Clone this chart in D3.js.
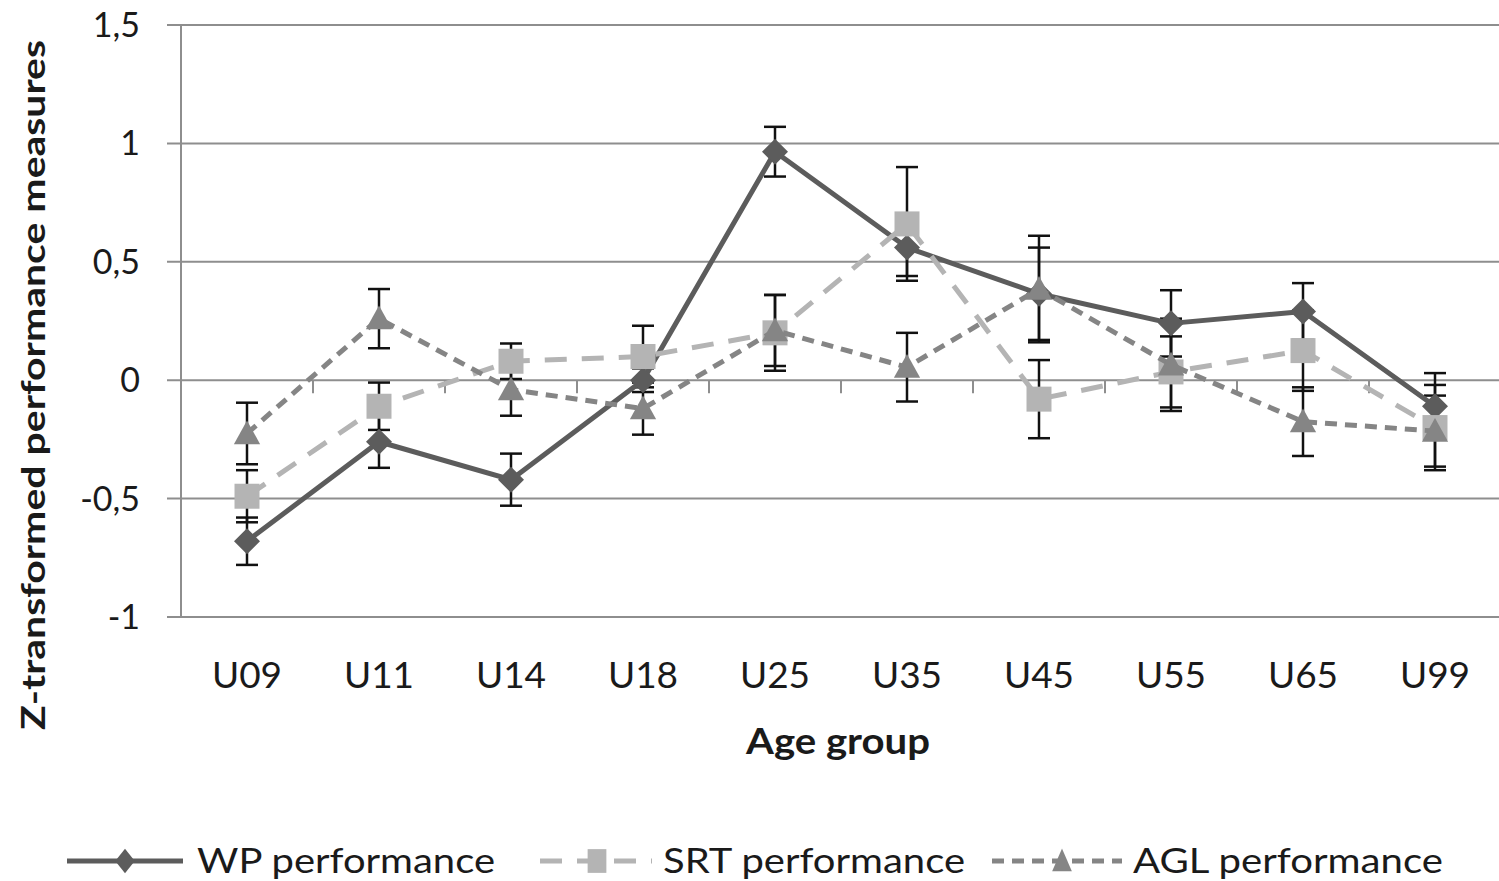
<!DOCTYPE html>
<html>
<head>
<meta charset="utf-8">
<script src="https://cdn.jsdelivr.net/npm/d3@7/dist/d3.min.js"></script>
<style>
  html, body { margin: 0; padding: 0; background: #fff; }
  svg { display: block; }
  text { font-family: Lato, "Open Sans", sans-serif; fill: #1a1a1a; }
</style>
</head>
<body>
<svg id="chart" width="1499" height="881"></svg>
<script>
// Age groups along the x axis
const ageGroups = ["U09", "U11", "U14", "U18", "U25", "U35", "U45", "U55", "U65", "U99"];

// Mean z-scores per age group
const wpMean  = [-0.68, -0.26, -0.42, 0.00, 0.965, 0.56, 0.365, 0.24, 0.29, -0.11];
const srtMean = [-0.49, -0.11, 0.08, 0.10, 0.20, 0.66, -0.08, 0.035, 0.125, -0.20];
const aglMean = [-0.225, 0.26, -0.04, -0.12, 0.21, 0.055, 0.385, 0.065, -0.175, -0.215];

// Error bar half-widths (symmetric)
const wpErr  = [0.10, 0.11, 0.11, 0.05, 0.105, 0.12, 0.195, 0.14, 0.12, 0.14];
const srtErr = [0.11, 0.10, 0.075, 0.13, 0.16, 0.24, 0.165, 0.15, 0.17, 0.18];
const aglErr = [0.13, 0.125, 0.11, 0.11, 0.15, 0.145, 0.225, 0.195, 0.145, 0.15];

// Y axis tick values and their labels (decimal comma)
const yTicks = [-1, -0.5, 0, 0.5, 1, 1.5];
const yTickLabels = ["-1", "-0,5", "0", "0,5", "1", "1,5"];

const seriesNames = ["WP performance", "SRT performance", "AGL performance"];

const series = [
  { name: seriesNames[0], mean: wpMean,  err: wpErr,  color: "#5c5c5c", dash: null,    marker: "diamond" },
  { name: seriesNames[1], mean: srtMean, err: srtErr, color: "#b4b4b4", dash: "22,15", marker: "square" },
  { name: seriesNames[2], mean: aglMean, err: aglErr, color: "#858585", dash: "12,8",  marker: "triangle" }
];

const svg = d3.select("#chart");

const x = d3.scaleBand().domain(ageGroups).range([181, 1501]).paddingInner(0).paddingOuter(0);
const y = d3.scaleLinear().domain([-1, 1.5]).range([617, 25]);
const cx = d => x(d) + x.bandwidth() / 2;

// Horizontal gridlines
svg.append("g").selectAll("line").data(yTicks).join("line")
  .attr("x1", 167).attr("x2", 1499)
  .attr("y1", d => y(d)).attr("y2", d => y(d))
  .attr("stroke", "#8e8e8e").attr("stroke-width", 2);

// Vertical value axis line
svg.append("line")
  .attr("x1", 181).attr("x2", 181).attr("y1", y(1.5)).attr("y2", y(-1))
  .attr("stroke", "#8e8e8e").attr("stroke-width", 2);

// Category tick marks hanging below the zero line
const boundaries = ageGroups.slice(1).map(d => x(d));
svg.append("g").selectAll("line").data(boundaries).join("line")
  .attr("x1", d => d).attr("x2", d => d)
  .attr("y1", y(0)).attr("y2", y(0) + 13)
  .attr("stroke", "#8e8e8e").attr("stroke-width", 2);

// Y tick labels
svg.append("g").selectAll("text").data(yTicks).join("text")
  .attr("x", 140).attr("y", d => y(d) + 12)
  .attr("text-anchor", "end")
  .style("font-size", "34px")
  .text((d, i) => yTickLabels[i]);

// X tick labels
svg.append("g").selectAll("text").data(ageGroups).join("text")
  .attr("x", d => cx(d)).attr("y", 688)
  .attr("text-anchor", "middle")
  .style("font-size", "37px")
  .text(d => d);

// Axis titles
svg.append("text")
  .attr("x", 838).attr("y", 754)
  .attr("text-anchor", "middle")
  .attr("textLength", 184).attr("lengthAdjust", "spacingAndGlyphs")
  .style("font-size", "36px").style("font-weight", "bold")
  .text("Age group");

svg.append("text")
  .attr("transform", "translate(45,385) rotate(-90)")
  .attr("text-anchor", "middle")
  .attr("textLength", 690).attr("lengthAdjust", "spacingAndGlyphs")
  .style("font-size", "32px").style("font-weight", "bold")
  .text("Z-transformed performance measures");

// Marker shapes
function markerPath(type, s) {
  if (type === "diamond") {
    return `M0,${-s}L${s},0L0,${s}L${-s},0Z`;
  } else if (type === "square") {
    return `M${-s},${-s}H${s}V${s}H${-s}Z`;
  } else {
    const h = s * 1.9;
    return `M0,${-h * 0.55}L${s * 1.05},${h * 0.45}L${-s * 1.05},${h * 0.45}Z`;
  }
}

const markerSize = { diamond: 13, square: 12.5, triangle: 12.5 };

// Error bars
const errG = svg.append("g");
series.forEach(s => {
  const rows = ageGroups.map((g, i) => ({ g, m: s.mean[i], e: s.err[i] }));
  const g = errG.append("g").attr("stroke", "#111").attr("stroke-width", 2.5);
  g.selectAll("line.v").data(rows).join("line").attr("class", "v")
    .attr("x1", d => cx(d.g)).attr("x2", d => cx(d.g))
    .attr("y1", d => y(d.m + d.e)).attr("y2", d => y(d.m - d.e));
  g.selectAll("line.t").data(rows).join("line").attr("class", "t")
    .attr("x1", d => cx(d.g) - 11).attr("x2", d => cx(d.g) + 11)
    .attr("y1", d => y(d.m + d.e)).attr("y2", d => y(d.m + d.e));
  g.selectAll("line.b").data(rows).join("line").attr("class", "b")
    .attr("x1", d => cx(d.g) - 11).attr("x2", d => cx(d.g) + 11)
    .attr("y1", d => y(d.m - d.e)).attr("y2", d => y(d.m - d.e));
});

// Lines and markers
const line = d3.line().x(d => cx(d.g)).y(d => y(d.m));
series.forEach(s => {
  const rows = ageGroups.map((g, i) => ({ g, m: s.mean[i] }));
  svg.append("path").datum(rows)
    .attr("d", line)
    .attr("fill", "none")
    .attr("stroke", s.color)
    .attr("stroke-width", 5)
    .attr("stroke-linejoin", "round")
    .attr("stroke-dasharray", s.dash);
  svg.append("g").selectAll("path").data(rows).join("path")
    .attr("transform", d => `translate(${cx(d.g)},${y(d.m)})`)
    .attr("d", markerPath(s.marker, markerSize[s.marker]))
    .attr("fill", s.color);
});

// Legend
const legendItems = [
  { s: series[0], x1: 67,  x2: 183,  mx: 125,  tx: 197,  tw: 298 },
  { s: series[1], x1: 540, x2: 652,  mx: 597,  tx: 663,  tw: 302 },
  { s: series[2], x1: 992, x2: 1122, mx: 1062, tx: 1133, tw: 310 }
];
const legendY = 861;
const lg = svg.append("g");
legendItems.forEach(it => {
  lg.append("line")
    .attr("x1", it.x1).attr("x2", it.x2).attr("y1", legendY).attr("y2", legendY)
    .attr("stroke", it.s.color).attr("stroke-width", 5)
    .attr("stroke-dasharray", it.s.dash);
  lg.append("path")
    .attr("transform", `translate(${it.mx},${legendY}) scale(0.75,0.95)`)
    .attr("d", markerPath(it.s.marker, markerSize[it.s.marker]))
    .attr("fill", it.s.color);
  lg.append("text")
    .attr("x", it.tx).attr("y", legendY + 12)
    .attr("textLength", it.tw).attr("lengthAdjust", "spacingAndGlyphs")
    .style("font-size", "34px")
    .text(it.s.name);
});
</script>
</body>
</html>
